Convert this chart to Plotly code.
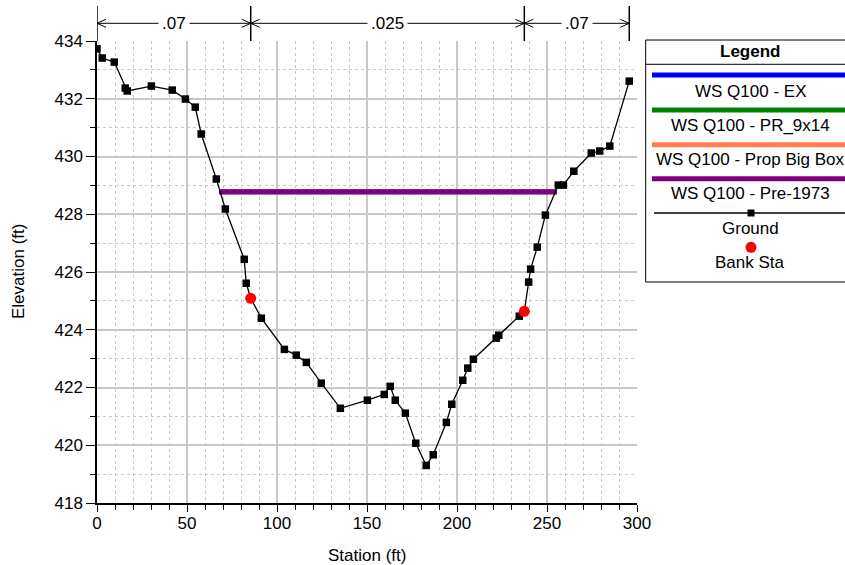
import plotly.graph_objects as go

# ---------------- data ----------------
station = [0, 2.9, 9.6, 15.7, 16.8, 30.2, 41.8, 49.1, 54.6, 57.9,
           66.3, 71.3, 81.8, 82.9, 85.4, 91.3, 104.1, 110.7, 116.3, 124.6,
           135.2, 150.2, 159.6, 162.9, 165.7, 171.3, 177.1, 182.9, 186.8, 194.1,
           197.1, 203.2, 206.0, 209.1, 221.8, 223.2, 234.6, 237.4, 239.8, 240.9,
           244.6, 249.1, 256.3, 259.1, 264.9, 274.6, 279.3, 284.9, 295.7]
elevation = [433.73, 433.41, 433.27, 432.37, 432.27, 432.44, 432.30, 431.99, 431.71, 430.78,
             429.22, 428.18, 426.44, 425.61, 425.09, 424.40, 423.32, 423.12, 422.87, 422.15,
             421.28, 421.56, 421.76, 422.04, 421.56, 421.11, 420.07, 419.30, 419.67, 420.79,
             421.42, 422.25, 422.67, 422.98, 423.71, 423.81, 424.47, 424.64, 425.65, 426.10,
             426.86, 427.97, 429.01, 429.01, 429.49, 430.12, 430.19, 430.36, 432.61]

bank_sta = [85.4, 237.4]
bank_elev = [425.09, 424.64]

ws_names = ["WS Q100 - EX", "WS Q100 - PR_9x14", "WS Q100 - Prop Big Box", "WS Q100 - Pre-1973"]
ws_colors = ["#0000FF", "#008000", "#FF7F50", "#800080"]
ws_elev = [428.78, 428.78, 428.78, 428.78]
ws_left = [67.8, 67.8, 67.8, 67.8]
ws_right = [255.5, 255.5, 255.5, 255.5]

n_bounds = [0, 85.4, 237.4, 295.7]
n_values = [".07", ".025", ".07"]

FONT = "Liberation Sans, Arial, sans-serif"
FS = 17

# ---------------- figure ----------------
fig = go.Figure()

for name, col, e, l, r in zip(ws_names, ws_colors, ws_elev, ws_left, ws_right):
    fig.add_trace(go.Scatter(x=[l, r], y=[e, e], mode="lines", name=name,
                             line=dict(color=col, width=5), showlegend=False))

fig.add_trace(go.Scatter(x=station, y=elevation, mode="lines+markers", name="Ground",
                         line=dict(color="black", width=1.3),
                         marker=dict(symbol="square", size=7.5, color="black"),
                         showlegend=False))
fig.add_trace(go.Scatter(x=bank_sta, y=bank_elev, mode="markers", name="Bank Sta",
                         marker=dict(symbol="circle", size=11, color="#FF0000"),
                         showlegend=False))

W, H = 845, 565
ML, MR, MT, MB = 97, 208, 41, 62
PW, PH = W - ML - MR, H - MT - MB


def px(p):
    return (p - ML) / PW


def py(p):
    return (H - MB - p) / PH


def label(xp, yp, text, **kw):
    d = dict(x=px(xp), y=py(yp), xref="paper", yref="paper", text=text,
             xanchor="center", yanchor="middle", showarrow=False,
             font=dict(family=FONT, size=FS, color="black"))
    d.update(kw)
    return d


shapes = []
annotations = []

# ---- Manning's n region markers above plot ----
xs_per_px = 300.0 / PW
y_top = py(6)
y_bot = py(MT)
y_arr = py(23.3)
ah_len = 9 * xs_per_px
ah_h = 4.0 / PH
for b in n_bounds:
    shapes.append(dict(type="line", xref="x", yref="paper", x0=b, x1=b, y0=y_bot, y1=y_top,
                       line=dict(color="black", width=1.5)))
shapes.append(dict(type="line", xref="x", yref="paper", x0=n_bounds[0], x1=n_bounds[-1],
                   y0=y_arr, y1=y_arr, line=dict(color="black", width=1)))
for i in range(len(n_values)):
    a, b = n_bounds[i], n_bounds[i + 1]
    shapes.append(dict(type="path", xref="x", yref="paper",
                       path=f"M {a + ah_len},{y_arr + ah_h} L {a},{y_arr} L {a + ah_len},{y_arr - ah_h}",
                       line=dict(color="black", width=1)))
    shapes.append(dict(type="path", xref="x", yref="paper",
                       path=f"M {b - ah_len},{y_arr + ah_h} L {b},{y_arr} L {b - ah_len},{y_arr - ah_h}",
                       line=dict(color="black", width=1)))
    annotations.append(dict(x=(a + b) / 2, y=y_arr, xref="x", yref="paper", text=n_values[i],
                            xanchor="center", yanchor="middle",
                            showarrow=False, bgcolor="white", borderpad=3,
                            font=dict(family=FONT, size=FS, color="black")))

# ---- manual legend box ----
LX0, LX1 = 645.7, 870
shapes.append(dict(type="rect", xref="paper", yref="paper", x0=px(LX0), x1=px(LX1),
                   y0=py(282), y1=py(40), line=dict(color="black", width=1), fillcolor="white",
                   layer="below"))
shapes.append(dict(type="line", xref="paper", yref="paper", x0=px(LX0), x1=px(LX1),
                   y0=py(64.3), y1=py(64.3), line=dict(color="black", width=1)))
annotations.append(label(750, 51.5, "<b>Legend</b>"))
line_y = [75, 110, 144.7, 178.7]
text_y = [91, 125.5, 159.7, 193.7]
for name, col, ly, ty in zip(ws_names, ws_colors, line_y, text_y):
    shapes.append(dict(type="line", xref="paper", yref="paper", x0=px(652), x1=px(870),
                       y0=py(ly), y1=py(ly), line=dict(color=col, width=5)))
    annotations.append(label(750, ty, name))
# Ground entry
shapes.append(dict(type="line", xref="paper", yref="paper", x0=px(654), x1=px(870),
                   y0=py(213), y1=py(213), line=dict(color="black", width=1.3)))
shapes.append(dict(type="rect", xref="paper", yref="paper", x0=px(747.5), x1=px(754.5),
                   y0=py(216.5), y1=py(209.5), line=dict(color="black", width=0), fillcolor="black"))
annotations.append(label(750, 228.5, "Ground"))
# Bank Sta entry
shapes.append(dict(type="circle", xref="paper", yref="paper", x0=px(745.5), x1=px(756.5),
                   y0=py(252.8), y1=py(241.8), line=dict(color="#FF0000", width=0), fillcolor="#FF0000"))
annotations.append(label(750, 262.5, "Bank Sta"))

# ---- axis titles ----
annotations.append(label(367, 555, "Station (ft)"))
annotations.append(label(18, 272, "Elevation (ft)", textangle=-90))

grid_col = "#C8C8C8"
fig.update_layout(
    width=W, height=H,
    margin=dict(l=ML, r=MR, t=MT, b=MB, pad=0),
    paper_bgcolor="white", plot_bgcolor="white",
    font=dict(family=FONT, size=FS, color="black"),
    showlegend=False,
    shapes=shapes, annotations=annotations,
    xaxis=dict(range=[0, 300], dtick=50, tick0=0, showgrid=True, gridcolor=grid_col, gridwidth=1.5,
               showline=True, linecolor="black", linewidth=1.5, zeroline=False,
               ticks="outside", ticklen=7, tickcolor="black", tickwidth=1,
               ticklabelstandoff=-3,
               tickfont=dict(family=FONT, size=FS, color="black"),
               minor=dict(dtick=10, showgrid=True, gridcolor=grid_col, griddash="3px,3px", gridwidth=1,
                          ticks="outside", ticklen=5, tickcolor="black", tickwidth=1)),
    yaxis=dict(range=[418, 434], dtick=2, tick0=418, showgrid=True, gridcolor=grid_col, gridwidth=1.5,
               showline=True, linecolor="black", linewidth=1.5, zeroline=False,
               ticks="outside", ticklen=9, tickcolor="black", tickwidth=1,
               tickfont=dict(family=FONT, size=FS, color="black"),
               minor=dict(dtick=1, showgrid=True, gridcolor=grid_col, griddash="3px,3px", gridwidth=1,
                          ticks="outside", ticklen=5, tickcolor="black", tickwidth=1)),
)

fig.write_html("out.html")
